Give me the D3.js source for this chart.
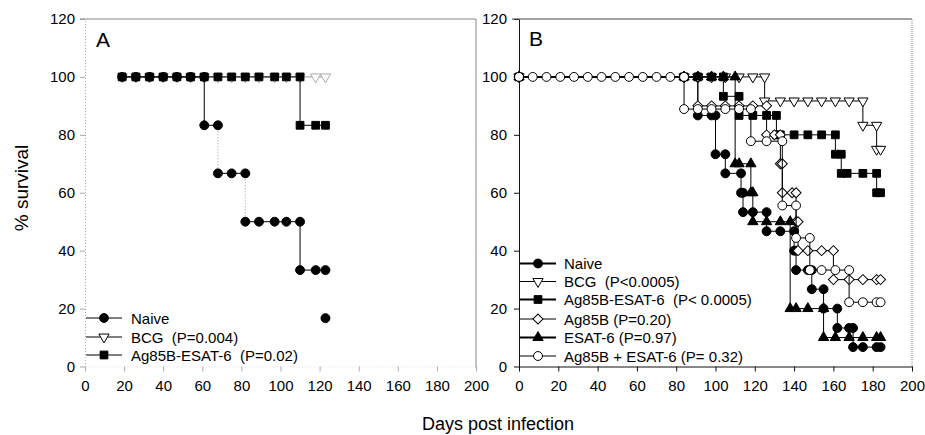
<!DOCTYPE html>
<html>
<head>
<meta charset="utf-8">
<script src="https://cdn.jsdelivr.net/npm/d3@7"></script>
<style>
  body { margin: 0; background: #fff; }
  svg { display: block; font-family: "Liberation Sans", Arial, sans-serif; }
  text { white-space: pre; fill: #000; }
</style>
</head>
<body>
<svg id="chart" width="925" height="435"></svg>
<script>
(function () {
  "use strict";

  var xTicks = [0, 20, 40, 60, 80, 100, 120, 140, 160, 180, 200];
  var yTicks = [0, 20, 40, 60, 80, 100, 120];

  // Panel A: [day, % survival]
  var naiveA = [[19,100],[26,100],[33,100],[40,100],[47,100],[54,100],[61,100],[61,83.3],[68,83.3],
    [68,66.7],[75,66.7],[82,66.7],[82,50],[89,50],[97,50],[103,50],[110,50],[110,33.3],[118,33.3],[123,33.3]];
  var naiveALast = [[123,16.7]];
  var bcgA = [[19,100],[26,100],[33,100],[40,100],[47,100],[54,100],[61,100],[68,100],[75,100],[82,100],
    [89,100],[97,100],[103,100],[110,100],[118,100],[123,100]];
  var ag85bEsatA = [[19,100],[26,100],[33,100],[40,100],[47,100],[54,100],[61,100],[68,100],[75,100],[82,100],
    [89,100],[97,100],[103,100],[110,100],[110,83.3],[118,83.3],[123,83.3]];
  var legendA = ["Naive", "BCG  (P=0.004)", "Ag85B-ESAT-6  (P=0.02)"];

  // Panel B
  var naiveB = [[0,100],[84,100],[91,100],[91,86.7],[98,86.7],[100,86.7],[100,73.3],[105,73.3],[105,66.7],
    [113,66.7],[113,60],[114,60],[114,53.3],[119,53.3],[126,53.3],[126,46.7],[133,46.7],[140,46.7],[140,40],
    [141,40],[141,33.3],[147,33.3],[149,33.3],[149,26.7],[155,26.7],[155,20],[162,20],[162,13.3],[168,13.3],
    [170,13.3],[170,6.7],[175,6.7],[182,6.7],[184,6.7]];
  var bcgB = [[0,100],[84,100],[91,100],[98,100],[105,100],[112,100],[119,100],[125,100],[125,91.7],[133,91.7],
    [140,91.7],[147,91.7],[154,91.7],[161,91.7],[168,91.7],[175,91.7],[175,83.3],[182,83.3],[182,75],[184,75]];
  var ag85bEsatB = [[0,100],[84,100],[91,100],[98,100],[104,100],[104,93.3],[112,93.3],[112,86.7],[119,86.7],
    [126,86.7],[131,86.7],[131,80],[133,80],[140,80],[147,80],[154,80],[161,80],[161,73.3],[164,73.3],
    [164,66.7],[167,66.7],[175,66.7],[182,66.7],[182,60],[184,60]];
  var ag85bB = [[0,100],[84,100],[91,100],[91,90],[98,90],[105,90],[112,90],[119,90],[126,90],[126,80],[130,80],
    [133,80],[133,70],[134,70],[134,60],[139,60],[141,60],[141,50],[142,50],[142,40],[147,40],[154,40],[160,40],
    [160,30],[168,30],[175,30],[182,30],[184,30]];
  var esatB = [[0,100],[84,100],[91,100],[98,100],[104,100],[110,100],[110,70],[112,70],[118,70],[118,60],[119,60],
    [119,50],[126,50],[133,50],[138,50],[138,20],[141,20],[147,20],[155,20],[155,10],[161,10],[168,10],[175,10],
    [182,10],[184,10]];
  var comboB = [[0,100],[7,100],[14,100],[21,100],[28,100],[35,100],[42,100],[49,100],[56,100],[63,100],[70,100],
    [77,100],[84,100],[84,88.9],[91,88.9],[98,88.9],[105,88.9],[112,88.9],[118,88.9],[118,77.8],[126,77.8],
    [134,77.8],[134,55.6],[141,55.6],[141,44.4],[148,44.4],[148,33.3],[154,33.3],[161,33.3],[168,33.3],
    [168,22.2],[175,22.2],[182,22.2],[184,22.2]];
  var legendB = ["Naive", "BCG  (P<0.0005)", "Ag85B-ESAT-6  (P< 0.0005)", "Ag85B (P=0.20)",
    "ESAT-6 (P=0.97)", "Ag85B + ESAT-6 (P= 0.32)"];

  var svg = d3.select("#chart");

  var y = d3.scaleLinear().domain([0, 120]).range([366.5, 19]);
  var xA = d3.scaleLinear().domain([0, 200]).range([85, 476]);
  var xB = d3.scaleLinear().domain([0, 200]).range([519, 912]);

  var shapes = {
    circle:  { type: d3.symbolCircle, size: 62, rot: 0 },
    square:  { type: d3.symbolSquare, size: 60, rot: 0 },
    triUp:   { type: d3.symbolTriangle, size: 46, rot: 0 },
    triDown: { type: d3.symbolTriangle, size: 46, rot: 180 },
    diamond: { type: d3.symbolSquare, size: 50, rot: 45 }
  };

  function marker(g, shape, cx, cy, fill, stroke) {
    var s = shapes[shape];
    g.append("path")
      .attr("d", d3.symbol(s.type, s.size)())
      .attr("transform", "translate(" + cx + "," + cy + ") rotate(" + s.rot + ")")
      .attr("fill", fill)
      .attr("stroke", stroke)
      .attr("stroke-width", 1);
  }

  function drawSeries(g, x, s) {
    var d = s.data;
    for (var i = 1; i < d.length; i++) {
      var vertical = d[i][0] === d[i - 1][0];
      var dotted = vertical && s.dotted && s.dotted.indexOf(d[i][0]) >= 0;
      g.append("line")
        .attr("x1", x(d[i - 1][0])).attr("y1", y(d[i - 1][1]))
        .attr("x2", x(d[i][0])).attr("y2", y(d[i][1]))
        .attr("stroke", dotted ? "#999" : s.line)
        .attr("stroke-dasharray", dotted ? "1,2" : null)
        .attr("stroke-width", 1);
    }
    d.forEach(function (p) {
      marker(g, s.symbol, x(p[0]), y(p[1]), s.fill, s.stroke);
    });
  }

  function axes(x, opts) {
    var gy = svg.append("g")
      .attr("transform", "translate(" + x.range()[0] + ",0)")
      .call(d3.axisLeft(y).tickValues(yTicks).tickSize(5).tickSizeOuter(0).tickPadding(opts.yPad));
    var gx = svg.append("g")
      .attr("transform", "translate(0," + y(0) + ")")
      .call(d3.axisBottom(x).tickValues(xTicks).tickSize(5).tickSizeOuter(0).tickPadding(9));
    [gy, gx].forEach(function (g) {
      g.selectAll("text").attr("font-size", 15).attr("font-family", "Liberation Sans, Arial, sans-serif");
    });
    gy.select(".domain").attr("stroke", opts.yAxis).attr("stroke-dasharray", opts.yDash);
    gx.select(".domain").attr("stroke", opts.xAxis).attr("stroke-dasharray", opts.xDash);
    gy.selectAll(".tick line").attr("stroke", opts.tick);
    gx.selectAll(".tick line").attr("stroke", opts.tick);
  }

  function legend(items, rows, lx, tx) {
    var g = svg.append("g");
    items.forEach(function (it, i) {
      g.append("line")
        .attr("x1", lx[0]).attr("x2", lx[1]).attr("y1", rows[i]).attr("y2", rows[i])
        .attr("stroke", "#000").attr("stroke-width", it.w);
      marker(g, it.symbol, (lx[0] + lx[1]) / 2, rows[i], it.fill, "#000");
      g.append("text")
        .attr("x", tx).attr("y", rows[i] + 5.5)
        .attr("font-size", 15)
        .text(it.label);
    });
  }

  // ---- Panel A ----
  axes(xA, { yPad: 5, yAxis: "#aaa", yDash: "1,2", xAxis: "#e2e2e2", xDash: "1,2", tick: "#aaa" });
  svg.append("line").attr("x1", 80).attr("x2", xA(200)).attr("y1", y(120)).attr("y2", y(120))
    .attr("stroke", "#888");
  svg.append("line").attr("x1", xA(200)).attr("x2", xA(200)).attr("y1", y(120)).attr("y2", y(0) + 1)
    .attr("stroke", "#888");

  var gA = svg.append("g");
  drawSeries(gA, xA, { data: bcgA, symbol: "triDown", fill: "#fff", stroke: "#aaa", line: "#999" });
  drawSeries(gA, xA, { data: ag85bEsatA, symbol: "square", fill: "#000", stroke: "#000", line: "#000" });
  drawSeries(gA, xA, { data: naiveA, symbol: "circle", fill: "#000", stroke: "#000", line: "#000", dotted: [68, 82] });
  naiveALast.forEach(function (p) { marker(gA, "circle", xA(p[0]), y(p[1]), "#000", "#000"); });

  legend([
    { label: legendA[0], symbol: "circle", fill: "#000", w: 1.2 },
    { label: legendA[1], symbol: "triDown", fill: "#fff", w: 1 },
    { label: legendA[2], symbol: "square", fill: "#000", w: 1.2 }
  ], [318, 337, 355], [86, 122], 131);

  svg.append("text").attr("x", 96).attr("y", 47).attr("font-size", 21).text("A");

  // ---- Panel B ----
  axes(xB, { yPad: 7, yAxis: "#111", yDash: null, xAxis: "#111", xDash: null, tick: "#111" });
  svg.append("line").attr("x1", 512).attr("x2", xB(200)).attr("y1", y(120)).attr("y2", y(120))
    .attr("stroke", "#444");
  svg.append("line").attr("x1", xB(200)).attr("x2", xB(200)).attr("y1", y(120)).attr("y2", y(0))
    .attr("stroke", "#888").attr("stroke-dasharray", "1,1");

  var gB = svg.append("g");
  drawSeries(gB, xB, { data: naiveB, symbol: "circle", fill: "#000", stroke: "#000", line: "#000" });
  drawSeries(gB, xB, { data: bcgB, symbol: "triDown", fill: "#fff", stroke: "#000", line: "#000" });
  drawSeries(gB, xB, { data: ag85bEsatB, symbol: "square", fill: "#000", stroke: "#000", line: "#000" });
  drawSeries(gB, xB, { data: ag85bB, symbol: "diamond", fill: "#fff", stroke: "#000", line: "#000" });
  drawSeries(gB, xB, { data: esatB, symbol: "triUp", fill: "#000", stroke: "#000", line: "#000" });
  drawSeries(gB, xB, { data: comboB, symbol: "circle", fill: "#fff", stroke: "#000", line: "#000" });

  legend([
    { label: legendB[0], symbol: "circle", fill: "#000", w: 2 },
    { label: legendB[1], symbol: "triDown", fill: "#fff", w: 1 },
    { label: legendB[2], symbol: "square", fill: "#000", w: 2 },
    { label: legendB[3], symbol: "diamond", fill: "#fff", w: 1 },
    { label: legendB[4], symbol: "triUp", fill: "#000", w: 2 },
    { label: legendB[5], symbol: "circle", fill: "#fff", w: 1 }
  ], [263.5, 281.5, 299.5, 319, 337.5, 356], [520, 556], 564);

  svg.append("text").attr("x", 529).attr("y", 46).attr("font-size", 21).text("B");

  // shared labels
  svg.append("text")
    .attr("transform", "translate(28,188) rotate(-90)")
    .attr("text-anchor", "middle")
    .attr("font-size", 19)
    .text("% survival");
  svg.append("text")
    .attr("x", 498).attr("y", 430)
    .attr("text-anchor", "middle")
    .attr("font-size", 18)
    .text("Days post infection");
}());
</script>
</body>
</html>
